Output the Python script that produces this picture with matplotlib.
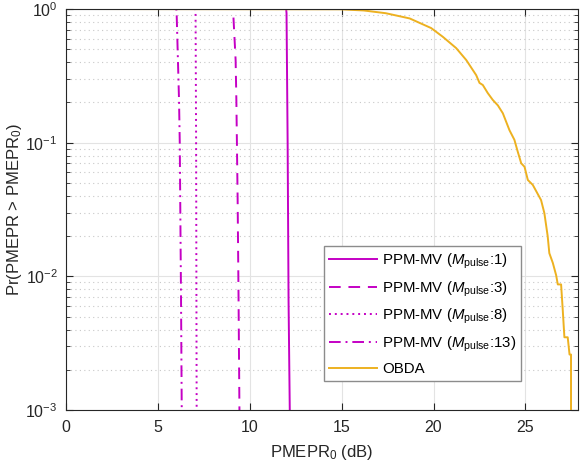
import numpy as np
import matplotlib
matplotlib.use("Agg")
import matplotlib.pyplot as plt
from matplotlib.ticker import LogLocator, NullFormatter, LogFormatterMathtext

plt.rcParams['font.family'] = ['Liberation Sans', 'DejaVu Sans']
plt.rcParams['mathtext.fontset'] = 'custom'
plt.rcParams['mathtext.rm'] = 'Liberation Sans'
plt.rcParams['mathtext.it'] = 'Liberation Sans:italic'
plt.rcParams['mathtext.bf'] = 'Liberation Sans:bold'

# ---- data ----
ppm1_x = [0, 11.98, 12.00, 12.06, 12.11, 12.18]
ppm1_p = [1, 1, 0.93, 0.1, 0.0066, 0.0009]

ppm3_x = [0, 9.05, 9.10, 9.23, 9.27, 9.30, 9.34, 9.39, 9.44]
ppm3_p = [1, 1, 0.93, 0.415, 0.209, 0.1, 0.037, 0.0066, 0.0009]

ppm8_x = [0, 7.03, 7.05, 7.08, 7.11]
ppm8_p = [1, 1, 0.93, 0.1, 0.0009]

ppm13_x = [0, 6.00, 6.02, 6.15, 6.19, 6.26, 6.30]
ppm13_p = [1, 1, 0.93, 0.209, 0.1, 0.0066, 0.0009]

obda_x = [0, 14.9, 16.2, 17.4, 18.7, 19.87, 20.5, 21.23, 21.78, 22.32, 22.5, 22.68, 22.95, 23.22,
          23.5, 23.77, 24.13, 24.4, 24.58, 24.77, 24.95, 25.13, 25.4, 25.6, 25.85, 26.03, 26.21,
          26.3, 26.49, 26.67, 26.76, 26.94, 27.03, 27.12, 27.3, 27.4, 27.48, 27.48]
obda_p = [1, 0.995, 0.975, 0.93, 0.85, 0.72, 0.62, 0.51, 0.415, 0.32, 0.28, 0.27, 0.235, 0.209,
          0.19, 0.166, 0.124, 0.105, 0.0857, 0.0701, 0.066, 0.0526, 0.0483, 0.043, 0.0372, 0.0297, 0.020,
          0.0149, 0.0126, 0.0102, 0.0087, 0.0087, 0.0056, 0.0035, 0.0035, 0.0026, 0.0026, 0.0009]

labels = ['PPM-MV ($M_{\\mathrm{pulse}}$:1)', 'PPM-MV ($M_{\\mathrm{pulse}}$:3)',
          'PPM-MV ($M_{\\mathrm{pulse}}$:8)', 'PPM-MV ($M_{\\mathrm{pulse}}$:13)', 'OBDA']

mag = '#C400C4'
obda_c = '#EDB120'

fig = plt.figure(figsize=(5.8, 4.66), dpi=100)
ax = fig.add_axes([66/580, (466-410)/466, (578-66)/580, (410-9)/466])

ax.plot(ppm1_x, ppm1_p, '-', color=mag, lw=1.4, label=labels[0])
ax.plot(ppm3_x, ppm3_p, color=mag, lw=1.4, linestyle=(0, (6, 4)), label=labels[1])
ax.plot(ppm8_x, ppm8_p, color=mag, lw=1.4, linestyle=(0, (1, 2)), label=labels[2])
ax.plot(ppm13_x, ppm13_p, color=mag, lw=1.4, linestyle=(0, (6, 2.5, 1, 2.5)), label=labels[3])
ax.plot(obda_x, obda_p, '-', color=obda_c, lw=1.4, label=labels[4])

ax.set_yscale('log')
ax.set_xlim(0, 27.86)
ax.set_ylim(1e-3, 1)
ax.set_xticks([0, 5, 10, 15, 20, 25])
ax.yaxis.set_major_locator(LogLocator(base=10, numticks=10))
ax.yaxis.set_minor_locator(LogLocator(base=10, subs=np.arange(2, 10), numticks=20))
ax.yaxis.set_major_formatter(LogFormatterMathtext())
ax.yaxis.set_minor_formatter(NullFormatter())

edge = '#262626'
for s in ax.spines.values():
    s.set_color(edge)
    s.set_linewidth(0.8)
ax.tick_params(which='both', direction='in', top=True, right=True, colors=edge,
               labelcolor='#262626', labelsize=11.5)
ax.tick_params(which='major', length=5, width=0.8)
ax.tick_params(axis='x', which='major', pad=7)
ax.tick_params(axis='y', which='major', pad=6)
ax.tick_params(which='minor', length=3, width=0.6)

ax.grid(True, which='major', axis='both', color='#e3e3e3', lw=0.8, linestyle='-')
ax.grid(True, which='minor', axis='y', color='#c8c8c8', lw=0.8, linestyle=(0, (1, 3)))
ax.set_axisbelow(True)

ax.set_xlabel('PMEPR$_0$ (dB)', fontsize=12, color='#262626', labelpad=6)
ax.set_ylabel('Pr(PMEPR > PMEPR$_0$)', fontsize=12, color='#262626')
ax.yaxis.set_label_coords(-0.083, 0.5)

leg = ax.legend(loc='lower right', bbox_to_anchor=(0.889, 0.072), fontsize=10.8,
                frameon=True, fancybox=False, handlelength=3.2, handletextpad=0.3,
                labelspacing=0.55, borderpad=0.35, borderaxespad=0)
leg.get_frame().set_edgecolor('#8c8c8c')
leg.get_frame().set_linewidth(1.0)
leg.get_frame().set_alpha(1)

fig.savefig('out.png', dpi=100)
